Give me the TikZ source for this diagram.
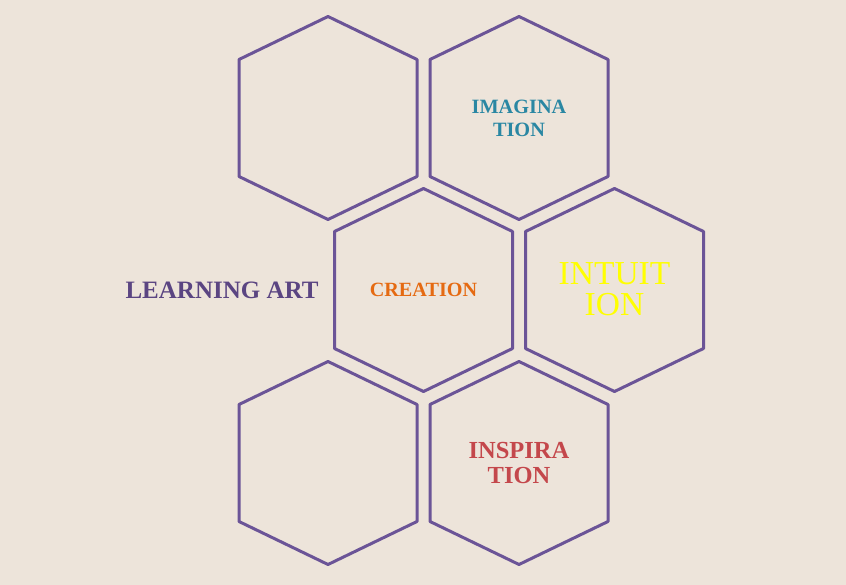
\documentclass[tikz,border=0pt]{standalone}
\usepackage{fontspec}
\setmainfont{Liberation Serif}
\usetikzlibrary{calc}
\definecolor{bgpaper}{HTML}{EDE4DA}
\definecolor{hexline}{HTML}{6B5497}
\definecolor{learnpurple}{HTML}{5B4582}
\definecolor{imagteal}{HTML}{2A87A3}
\definecolor{creaorange}{HTML}{E56A12}
\definecolor{inspred}{HTML}{C4474B}
\definecolor{intyellow}{HTML}{FFFF00}
\begin{document}
\begin{tikzpicture}[x=1pt,y=-1pt,
  hexcell/.style={draw=hexline,line width=3pt,line join=round},
  celltext/.style={align=center,inner sep=0pt,font=\bfseries}]
\fill[bgpaper] (0,0) rectangle (846,585);
\useasboundingbox (0,0) rectangle (846,585);
% centres of the six cells
\coordinate (h1) at (328,118);
\coordinate (h2) at (519,118);
\coordinate (h3) at (423.5,290);
\coordinate (h4) at (614.5,290);
\coordinate (h5) at (328,463);
\coordinate (h6) at (519,463);
% pointy-top hexagon outlines
\foreach \c in {h1,h2,h3,h4,h5,h6}{
  \draw[hexcell] ($(\c)+(0,-101.5)$) -- ($(\c)+(89,-58.5)$) -- ($(\c)+(89,58.5)$)
    -- ($(\c)+(0,101.5)$) -- ($(\c)+(-89,58.5)$) -- ($(\c)+(-89,-58.5)$) -- cycle;
}
% labels
\node[celltext,text=learnpurple,font=\bfseries\fontsize{25}{30}\selectfont] (learn) at (222,290) {LEARNING ART};
\node[celltext,text=imagteal,font=\bfseries\fontsize{20.3}{22.5}\selectfont] (imag) at ($(h2)+(0,0.5)$) {IMAGINA\\TION};
\node[celltext,text=creaorange,font=\bfseries\fontsize{20.2}{24}\selectfont] (crea) at (h3) {CREATION};
\node[celltext,text=intyellow,font=\fontsize{33.5}{31}\selectfont] (intu) at ($(h4)+(0,-1)$) {INTUIT\\ION};
\node[celltext,text=inspred,font=\bfseries\fontsize{24.5}{24.7}\selectfont] (insp) at (h6) {INSPIRA\\TION};
\end{tikzpicture}
\end{document}
